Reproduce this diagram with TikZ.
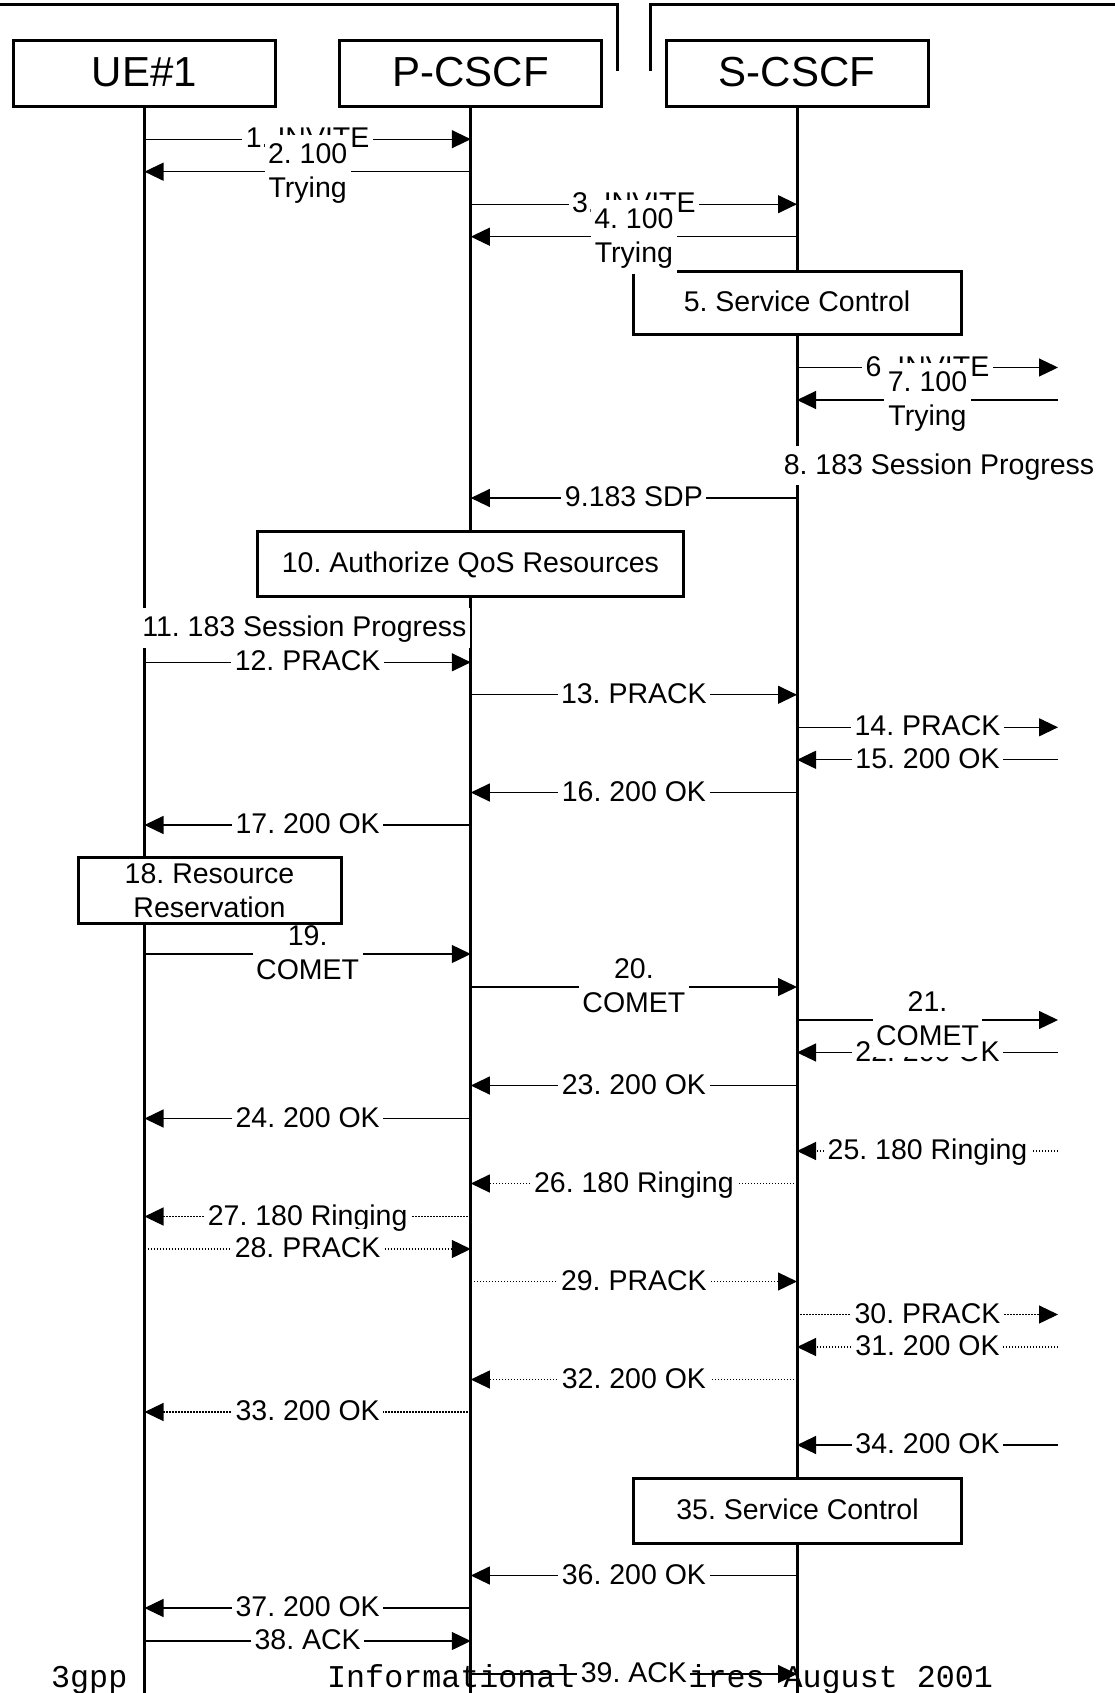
\documentclass[tikz,border=0pt]{standalone}
\usepackage{fontspec}
\setmainfont{Liberation Sans}
\newfontfamily\footmono{Liberation Mono}
\usetikzlibrary{arrows.meta}
\frenchspacing
\newcommand{\ls}{\rule[-8.55pt]{0pt}{34.35pt}}
\newcommand{\hs}{\rule[-12.6pt]{0pt}{50.6pt}}
\newcommand{\msgarrow}[6]{\draw[#2] (#3 |- 0,#5) -- (#4 |- 0,#5) node[lbl,midway] (#1) {#6};}
\begin{document}
\begin{tikzpicture}[x=1pt,y=-1pt,
  lbl/.style={fill=white, inner xsep=3.5pt, inner ysep=2.5pt, align=center, font=\frenchspacing\fontsize{28.5pt}{34.5pt}\selectfont},
  msg/.style={line width=1.2pt, -{Triangle[length=19pt,width=18pt]}},
  dmsg/.style={msg, dash pattern=on 1.5pt off 1.5pt},
  hbox/.style={draw, line width=3pt, fill=white, minimum width=262pt, minimum height=66pt, inner sep=0pt, font=\fontsize{42pt}{50pt}\selectfont},
  abox/.style={draw, line width=3pt, fill=white, inner sep=0pt, align=center, font=\frenchspacing\fontsize{28.5pt}{34.5pt}\selectfont},
  life/.style={line width=3pt},
  framel/.style={line width=3pt},
  foot/.style={anchor=base west, inner sep=0pt, font=\footmono\frenchspacing\fontsize{31.7pt}{36pt}\selectfont}
]
\useasboundingbox (0,0) rectangle (1115,1693);
% footer
\node[foot] (f1) at (51,1687) {3gpp};
\node[foot] (f2) at (327,1687) {Informational - Expires August 2001};
% top frame
\coordinate (fl0) at (0,4.7);
\coordinate (fl1) at (617,4.7);
\coordinate (fl2) at (617,70.7);
\coordinate (fr0) at (650.6,70.7);
\coordinate (fr1) at (650.6,4.7);
\coordinate (fr2) at (1115,4.7);
\draw[framel] (fl0) -- (fl1) -- (fl2);
\draw[framel] (fr0) -- (fr1) -- (fr2);
% headers
\node[hbox] (ue) at (144.5,73.85) {\hs UE\#1};
\node[hbox] (pc) at (470.8,73.85) {\hs P-CSCF};
\node[hbox] (sc) at (797,73.85) {\hs S-CSCF};
\coordinate (rt) at (1058,0);
% lifelines
\coordinate (ueend) at (144.5,1693);
\coordinate (pcend) at (470.8,1693);
\coordinate (scend) at (797,1693);
\draw[life] (ue.south) -- (ueend);
\draw[life] (pc.south) -- (pcend);
\draw[life] (sc.south) -- (scend);
% messages
\msgarrow{m1}{msg}{ue}{pc}{139.2}{1. INVITE\ls}
\msgarrow{m2}{msg}{pc}{ue}{171.7}{2. 100\ls\\Trying\ls}
\msgarrow{m3}{msg}{pc}{sc}{204.2}{3. INVITE\ls}
\node[abox, minimum width=328pt, minimum height=63pt] (b5) at (797,303.3) {5. Service Control\ls};
\msgarrow{m4}{msg}{sc}{pc}{236.7}{4. 100\ls\\Trying\ls}
\msgarrow{m6}{msg}{sc}{rt}{367.5}{6. INVITE\ls}
\msgarrow{m7}{msg}{rt}{sc}{400}{7. 100\ls\\Trying\ls}
\node[lbl] (m8) at (939,465.4) {8. 183 Session Progress\ls};
\msgarrow{m9}{msg}{sc}{pc}{498}{9.183 SDP\ls}
\node[abox, minimum width=425.2pt, minimum height=65pt] (b10) at (470.4,564.2) {10. Authorize QoS Resources\ls};
\node[lbl] (m11) at (304.4,628.1) {11. 183 Session Progress\ls};
\msgarrow{m12}{msg}{ue}{pc}{662.3}{12. PRACK\ls}
\msgarrow{m13}{msg}{pc}{sc}{694.8}{13. PRACK\ls}
\msgarrow{m14}{msg}{sc}{rt}{727.3}{14. PRACK\ls}
\msgarrow{m15}{msg}{rt}{sc}{759.8}{15. 200 OK\ls}
\msgarrow{m16}{msg}{sc}{pc}{792.5}{16. 200 OK\ls}
\msgarrow{m17}{msg}{pc}{ue}{825}{17. 200 OK\ls}
\msgarrow{m19}{msg}{ue}{pc}{954}{19.\ls\\COMET\ls}
\node[abox, minimum width=263pt, minimum height=65.6pt] (b18) at (209.5,890.5) {18. Resource\\Reservation};
\msgarrow{m20}{msg}{pc}{sc}{987}{20.\ls\\COMET\ls}
\msgarrow{m22}{msg}{rt}{sc}{1052.5}{22. 200 OK\ls}
\msgarrow{m21}{msg}{sc}{rt}{1020}{21.\ls\\COMET\ls}
\msgarrow{m23}{msg}{sc}{pc}{1085.5}{23. 200 OK\ls}
\msgarrow{m24}{msg}{pc}{ue}{1118.5}{24. 200 OK\ls}
\msgarrow{m25}{dmsg}{rt}{sc}{1151}{25. 180 Ringing\ls}
\msgarrow{m26}{dmsg}{sc}{pc}{1183.5}{26. 180 Ringing\ls}
\msgarrow{m27}{dmsg}{pc}{ue}{1216.5}{27. 180 Ringing\ls}
\msgarrow{m28}{dmsg}{ue}{pc}{1249}{28. PRACK\ls}
\msgarrow{m29}{dmsg}{pc}{sc}{1281.5}{29. PRACK\ls}
\msgarrow{m30}{dmsg}{sc}{rt}{1314.5}{30. PRACK\ls}
\msgarrow{m31}{dmsg}{rt}{sc}{1347}{31. 200 OK\ls}
\msgarrow{m32}{dmsg}{sc}{pc}{1379.5}{32. 200 OK\ls}
\msgarrow{m33}{dmsg}{pc}{ue}{1412}{33. 200 OK\ls}
\msgarrow{m34}{msg}{rt}{sc}{1445}{34. 200 OK\ls}
\node[abox, minimum width=328pt, minimum height=65pt] (b35) at (797.5,1510.8) {35. Service Control\ls};
\msgarrow{m36}{msg}{sc}{pc}{1575.5}{36. 200 OK\ls}
\msgarrow{m37}{msg}{pc}{ue}{1608}{37. 200 OK\ls}
\msgarrow{m38}{msg}{ue}{pc}{1641}{38. ACK\ls}
\msgarrow{m39}{msg}{pc}{sc}{1674}{39. ACK\ls}
\end{tikzpicture}
\end{document}
